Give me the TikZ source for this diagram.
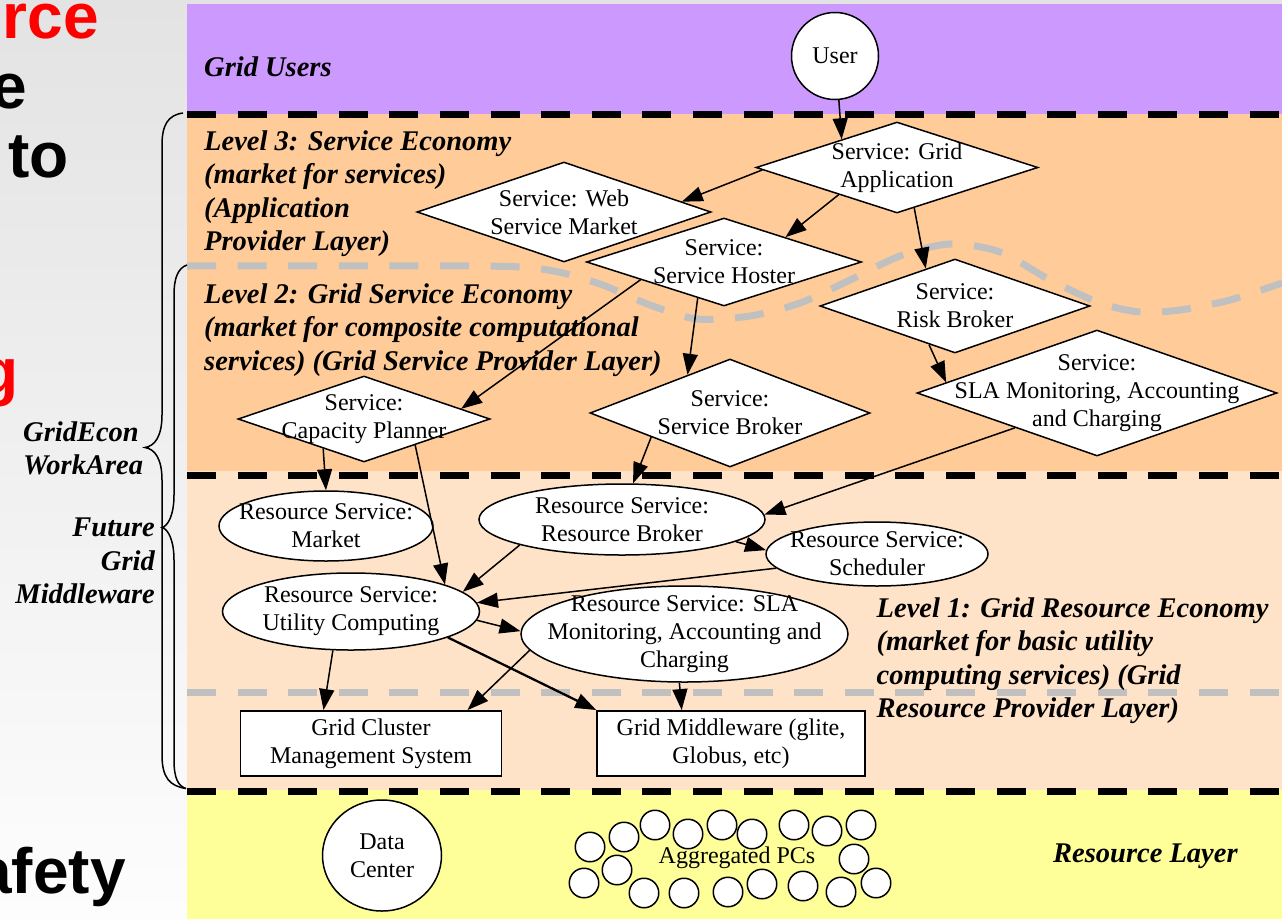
\documentclass[tikz,border=0pt]{standalone}
\usepackage{fontspec}
\setmainfont{Liberation Serif}
\newfontfamily\gslidefam{Liberation Sans}
\usetikzlibrary{shapes.geometric,arrows.meta}
\definecolor{cpurple}{RGB}{204,153,255}
\definecolor{corange}{RGB}{255,204,153}
\definecolor{clight}{RGB}{255,227,200}
\definecolor{cyellow}{RGB}{255,255,153}
\definecolor{cgray}{RGB}{192,192,192}
\definecolor{cbgtop}{RGB}{227,227,227}
\definecolor{cbgbot}{RGB}{253,253,253}
\newcommand\gnodefont{\fontsize{24pt}{28pt}\selectfont}
\newcommand\glevelfont{\fontsize{28.5pt}{33.4pt}\selectfont\bfseries\itshape}
\newcommand\gslidefont{\gslidefam\bfseries\fontsize{64pt}{70pt}\selectfont}
\begin{document}
\begin{tikzpicture}[x=1pt,y=-1pt,
  dia/.style={diamond, draw, fill=white, line width=1.5pt, inner sep=0pt},
  ell/.style={ellipse, draw, fill=white, line width=1.5pt, inner sep=0pt},
  boxn/.style={rectangle, draw, fill=white, line width=1.5pt, font=\gnodefont, align=center, inner sep=0pt},
  lbl/.style={font=\gnodefont, align=center, inner sep=0pt},
  arr/.style={line width=1.5pt, -{Triangle[length=21pt,width=15pt]}},
  lvl/.style={font=\glevelfont, align=left, inner sep=0pt},
  bdash/.style={line width=7pt, dash pattern=on 29pt off 21.6pt},
  gdash/.style={cgray, line width=7pt, dash pattern=on 29pt off 21.6pt},
  slide/.style={font=\gslidefont, inner sep=0pt},
  pc/.style={circle, draw, fill=white, line width=1.5pt, minimum size=29.5pt, inner sep=0pt},
  brace/.style={line width=1.5pt}
]
\useasboundingbox (0,0) rectangle (1282,919);
\clip (0,0) rectangle (1282,919);
\shade[top color=cbgtop, bottom color=cbgbot] (0,0) rectangle (1282,919);
% bands
\fill[cpurple] (187,4) rectangle (1282,114);
\fill[corange] (187,114) rectangle (1282,471);
\fill[clight] (187,471) rectangle (1282,790);
\fill[cyellow] (187,790) rectangle (1282,919);
% grey boundaries
\draw[gdash] plot[smooth] coordinates {(187,266) (480,266) (548,270) (600,284) (650,305) (697,319) (750,316) (800,303) (850,280) (900,256) (950,244) (1000,252) (1050,280) (1100,303) (1140,312) (1180,310) (1230,300) (1282,283)};
\draw[gdash] (187,692.5) -- (1282,692.5);
% black boundaries
\draw[bdash] (187,114) -- (1282,114);
\draw[bdash] (187,475.5) -- (1282,475.5);
\draw[bdash] (187,791) -- (1282,791);

% level texts
\node[lvl, anchor=base west] (gu) at (204,76) {Grid Users};
\node[lvl, anchor=north west] (lv3) at (204,130.5) {Level 3: Service Economy\\(market for services)\\(Application\\Provider Layer)};
\node[lvl, anchor=north west] (lv2) at (204,283.5) {Level 2: Grid Service Economy\\(market for composite computational\\services) (Grid Service Provider Layer)};
\node[lvl, anchor=north west] (lv1) at (876.5,597.5) {Level 1: Grid Resource Economy\\(market for basic utility\\computing services) (Grid\\Resource Provider Layer)};
\node[lvl, anchor=base west] (rl) at (1053,862) {Resource Layer};
\node[lvl, anchor=north west] (ge) at (23,421.5) {GridEcon\\WorkArea};
\node[lvl, anchor=north east, align=right] (fg) at (155,518) {Future\\Grid\\Middleware};

% nodes
\node[circle, draw, fill=white, line width=1.5pt, minimum size=87pt, inner sep=0pt, font=\gnodefont] (user) at (835,56) {User};
\node[dia, minimum width=282pt, minimum height=91pt, label={[lbl]center:{Service: Grid\\Application}}] (gapp) at (897,167.5) {};
\node[dia, minimum width=294pt, minimum height=100pt, label={[lbl]center:{Service: Web\\Service Market}}] (web) at (564,212) {};
\node[dia, minimum width=275pt, minimum height=88pt, label={[lbl]center:{Service:\\Service Hoster}}] (host) at (724,262) {};
\node[dia, minimum width=270pt, minimum height=94pt, label={[lbl]center:{Service:\\Risk Broker}}] (risk) at (955,306) {};
\node[dia, minimum width=360pt, minimum height=126pt, label={[lbl]center:{Service:\\SLA Monitoring, Accounting\\and Charging}}] (slas) at (1097,393) {};
\node[dia, minimum width=280pt, minimum height=108pt, label={[lbl]center:{Service:\\Service Broker}}] (sbrk) at (730,413) {};
\node[dia, minimum width=252pt, minimum height=86pt, label={[lbl]center:{Service:\\Capacity Planner}}] (cap) at (364,419) {};

\node[ell, minimum width=214pt, minimum height=70pt, label={[lbl]center:{Resource Service:\\Market}}] (mkt) at (326,526) {};
\node[ell, minimum width=286pt, minimum height=71pt, label={[lbl]center:{Resource Service:\\Resource Broker}}] (rbrk) at (622,519.5) {};
\node[ell, minimum width=222pt, minimum height=64pt, label={[lbl]center:{Resource Service:\\Scheduler}}] (sched) at (877,554) {};
\node[ell, minimum width=257pt, minimum height=77pt, label={[lbl]center:{Resource Service:\\Utility Computing}}] (util) at (351,611.5) {};
\node[ell, minimum width=327pt, minimum height=96pt, label={[lbl]center:{Resource Service: SLA\\Monitoring, Accounting and\\Charging}}] (slar) at (684.5,634) {};

\node[boxn, minimum width=261pt, minimum height=65pt] (gc) at (371,743.3) {Grid Cluster\\Management System};
\node[boxn, minimum width=268pt, minimum height=65pt] (gm) at (731,743.3) {Grid Middleware (glite,\\Globus, etc)};

\node[ell, minimum width=119pt, minimum height=111pt, label={[lbl]center:{Data\\Center}}] (dc) at (382,855.5) {};
\foreach \x/\y [count=\i] in {590/847, 624/837, 655/825, 688/834, 722/825, 752/834, 794/825, 827/831, 861/825, 854/859, 617/870, 584/883, 644/893, 684/893, 728/892, 762/884, 803/886, 841/892, 876/883}
  \node[pc] (pc\i) at (\x,\y) {};
\node[font=\gnodefont, inner sep=0pt] (agg) at (737,858) {Aggregated PCs};

% edges
\draw[arr] (user.275) -- (gapp.153);
\draw[arr] (gapp.181) -- (web.5);
\draw[arr] (gapp.205) -- (host.22);
\draw[arr] (gapp.293) -- (risk.128);
\draw[arr] (host.192) -- (cap.6);
\draw[arr] (host.234) -- (sbrk.138);
\draw[arr] (risk.236) -- (slas.176);
\draw[arr] (cap.216) -- (mkt.90);
\draw[arr] (cap.333) -- (util.16);
\draw[arr] (sbrk.197) -- (rbrk.73);
\draw[arr] (slas.203) -- (rbrk.2);
\draw[arr] (rbrk.194) -- (util.10);
\draw[arr] (rbrk.349) -- (sched.178);
\draw[arr] (sched.188) -- (util.4);
\draw[arr] (util.356) -- (slar.179);
\draw[arr] (util.245) -- (gc.145);
\draw[arr] (slar.186) -- (gc.19);
\draw[arr, line width=2.3pt] (util.345) -- (gm.north west);
\draw[arr] (slar.264) -- (gm.146);

% braces
\draw[brace] (183,113) .. controls (168,115) and (162,125) .. (162,145) -- (162,415) .. controls (162,436) and (155,446) .. (145,447.5) .. controls (155,449) and (162,459) .. (162,480) -- (162,755) .. controls (162,778) and (170,786) .. (186,788.5);
\draw[brace] (187,265) .. controls (178,268) and (174,278) .. (174,295) -- (174,495) .. controls (174,515) and (168,526) .. (162,527.5) .. controls (168,529) and (174,540) .. (174,560) -- (174,760) .. controls (174,778) and (178,786) .. (186,788.5);

% slide fragments
\node[slide, text=red, anchor=base east] (s1) at (99,38) {rce};
\node[slide, anchor=base east] (s2) at (27,108) {e};
\node[slide, anchor=base east] (s3) at (69,177) {to};
\node[slide, text=red, anchor=base east] (s4) at (19,393) {g};
\node[slide, anchor=base east] (s5) at (126,893) {afety};
\end{tikzpicture}
\end{document}
